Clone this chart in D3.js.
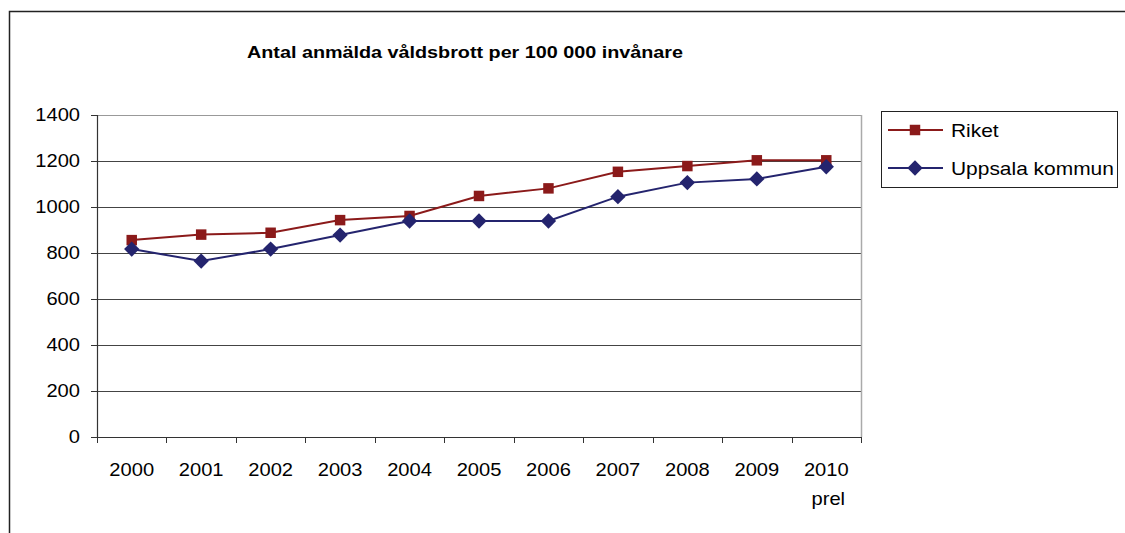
<!DOCTYPE html>
<html>
<head>
<meta charset="utf-8">
<script src="https://cdn.jsdelivr.net/npm/d3@7"></script>
<style>
  body { margin: 0; background: #fff; }
  text { font-family: "Liberation Sans", Arial, sans-serif; fill: #000; }
</style>
</head>
<body>
<svg id="svg"></svg>
<script>
const years = ['2000','2001','2002','2003','2004','2005','2006','2007','2008','2009','2010'];
const yearSub = ['','','','','','','','','','','prel'];
const riket = [856, 880, 888, 943, 961, 1048, 1081, 1153, 1178, 1203, 1203];
const uppsala = [817, 765, 817, 878, 939, 939, 939, 1045, 1106, 1122, 1175];
const yTicks = [0, 200, 400, 600, 800, 1000, 1200, 1400];
const seriesNames = ['Riket', 'Uppsala kommun'];

const W = 1125, H = 533;
const plot = {l: 97, r: 861, t: 115, b: 437};
const sx = 1.15; // text in the original is stretched sideways
const red = '#8b1a1a', blue = '#24246e';

const svg = d3.select('#svg').attr('width', W).attr('height', H);

// outer frame (runs off the right and bottom of the picture)
svg.append('rect')
  .attr('x', 9.5).attr('y', 11.5)
  .attr('width', W + 20).attr('height', H + 20)
  .attr('fill', 'none').attr('stroke', '#222').attr('stroke-width', 1.5);

function stretchedText(x, y, str, anchor, size, weight) {
  const g = svg.append('g').attr('transform', `translate(${x},${y}) scale(${sx},1)`);
  g.append('text')
    .attr('text-anchor', anchor)
    .style('font-size', size + 'px')
    .style('font-weight', weight || 'normal')
    .text(str);
  return g;
}

stretchedText(465, 58, 'Antal anmälda våldsbrott per 100 000 invånare', 'middle', 17.2, 'bold');

const x = d3.scaleBand().domain(years).range([plot.l, plot.r]);
const y = d3.scaleLinear().domain([0, 1400]).range([plot.b, plot.t]);

// gridlines
svg.append('g').selectAll('line')
  .data(yTicks.filter(d => d > 0))
  .enter().append('line')
  .attr('x1', plot.l).attr('x2', plot.r)
  .attr('y1', d => Math.round(y(d)) + 0.5).attr('y2', d => Math.round(y(d)) + 0.5)
  .attr('stroke', d => d === 1400 ? '#999' : '#444')
  .attr('stroke-width', 1);

// plot area right border
svg.append('line')
  .attr('x1', plot.r + 0.5).attr('x2', plot.r + 0.5)
  .attr('y1', plot.t).attr('y2', plot.b)
  .attr('stroke', '#aaa').attr('stroke-width', 1.5);

// y axis
svg.append('line')
  .attr('x1', plot.l + 0.5).attr('x2', plot.l + 0.5)
  .attr('y1', plot.t).attr('y2', plot.b + 0.5)
  .attr('stroke', '#333').attr('stroke-width', 1.2);
svg.append('g').selectAll('line')
  .data(yTicks)
  .enter().append('line')
  .attr('x1', plot.l - 6).attr('x2', plot.l)
  .attr('y1', d => Math.round(y(d)) + 0.5).attr('y2', d => Math.round(y(d)) + 0.5)
  .attr('stroke', '#333');
yTicks.forEach(d => stretchedText(80, y(d) + 6, String(d), 'end', 17.5));

// x axis
svg.append('line')
  .attr('x1', plot.l).attr('x2', plot.r + 1)
  .attr('y1', plot.b + 0.5).attr('y2', plot.b + 0.5)
  .attr('stroke', '#333').attr('stroke-width', 1.2);
const bounds = years.map(d => x(d)).concat([plot.r]);
svg.append('g').selectAll('line')
  .data(bounds)
  .enter().append('line')
  .attr('x1', d => Math.round(d) + 0.5).attr('x2', d => Math.round(d) + 0.5)
  .attr('y1', plot.b).attr('y2', plot.b + 6)
  .attr('stroke', '#333');
years.forEach((d, i) => {
  const cx = x(d) + x.bandwidth() / 2;
  stretchedText(cx, 476, d, 'middle', 17.5);
  if (yearSub[i]) stretchedText(cx + 2, 505, yearSub[i], 'middle', 17.5);
});

const line = d3.line()
  .x((d, i) => x(years[i]) + x.bandwidth() / 2)
  .y(d => y(d));

const square = d3.symbol().type(d3.symbolSquare).size(110);
const diamond = d3.symbol().type(d3.symbolDiamond2).size(150);

function drawSeries(vals, color, sym) {
  svg.append('path').datum(vals)
    .attr('d', line)
    .attr('fill', 'none').attr('stroke', color).attr('stroke-width', 2);
  svg.append('g').selectAll('path')
    .data(vals)
    .enter().append('path')
    .attr('d', sym)
    .attr('transform', (d, i) => `translate(${x(years[i]) + x.bandwidth() / 2},${y(d)})`)
    .attr('fill', color);
}
drawSeries(riket, red, square);
drawSeries(uppsala, blue, diamond);

// legend
svg.append('rect')
  .attr('x', 881.5).attr('y', 111.5).attr('width', 236).attr('height', 76)
  .attr('fill', '#fff').attr('stroke', '#222').attr('stroke-width', 1);
const legend = [
  {name: seriesNames[0], color: red, sym: square, cy: 130},
  {name: seriesNames[1], color: blue, sym: diamond, cy: 168}
];
legend.forEach(l => {
  svg.append('line')
    .attr('x1', 888).attr('x2', 943).attr('y1', l.cy).attr('y2', l.cy)
    .attr('stroke', l.color).attr('stroke-width', 2);
  svg.append('path').attr('d', l.sym)
    .attr('transform', `translate(915,${l.cy})`).attr('fill', l.color);
  stretchedText(951, l.cy + 6.5, l.name, 'start', 18.2);
});
</script>
</body>
</html>
